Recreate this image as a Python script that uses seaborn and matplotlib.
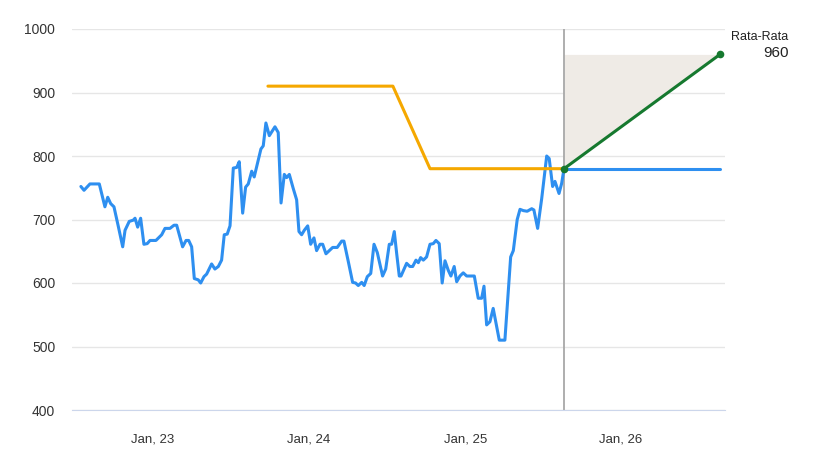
import matplotlib
matplotlib.use("Agg")
import matplotlib.pyplot as plt
import matplotlib.dates as mdates
import seaborn as sns
import pandas as pd

# price history, x in decimal years
price_t = [2022.538, 2022.558, 2022.596, 2022.656, 2022.692, 2022.710, 2022.729, 2022.750,
           2022.778, 2022.806, 2022.821, 2022.848, 2022.874, 2022.885, 2022.902, 2022.921,
           2022.942, 2022.963, 2022.981, 2023.019, 2023.056, 2023.077, 2023.109, 2023.135,
           2023.152, 2023.190, 2023.212, 2023.229, 2023.248, 2023.265, 2023.290, 2023.306,
           2023.327, 2023.344, 2023.376, 2023.397, 2023.419, 2023.440, 2023.457, 2023.476,
           2023.494, 2023.515, 2023.537, 2023.553, 2023.575, 2023.594, 2023.611, 2023.633,
           2023.649, 2023.675, 2023.692, 2023.707, 2023.724, 2023.746, 2023.782, 2023.803,
           2023.821, 2023.842, 2023.857, 2023.874, 2023.899, 2023.921, 2023.936, 2023.953,
           2023.970, 2023.992, 2024.011, 2024.032, 2024.049, 2024.071, 2024.088, 2024.109,
           2024.135, 2024.152, 2024.181, 2024.210, 2024.224, 2024.252, 2024.280, 2024.299,
           2024.316, 2024.338, 2024.354, 2024.374, 2024.396, 2024.417, 2024.438, 2024.472,
           2024.492, 2024.515, 2024.530, 2024.547, 2024.562, 2024.579, 2024.590, 2024.626,
           2024.647, 2024.665, 2024.686, 2024.701, 2024.716, 2024.733, 2024.754, 2024.776,
           2024.797, 2024.814, 2024.835, 2024.854, 2024.872, 2024.893, 2024.910, 2024.931,
           2024.947, 2024.968, 2024.989, 2025.011, 2025.060, 2025.085, 2025.107, 2025.122,
           2025.139, 2025.160, 2025.181, 2025.199, 2025.220, 2025.256, 2025.293, 2025.310,
           2025.335, 2025.353, 2025.374, 2025.399, 2025.428, 2025.442, 2025.466, 2025.492,
           2025.524, 2025.540, 2025.562, 2025.577, 2025.603, 2025.620, 2025.635]
price = [752, 746, 756, 756, 720, 735, 725, 720, 689, 657, 683, 697, 699, 702, 688, 702,
         661, 662, 667, 667, 676, 686, 686, 691, 691, 657, 667, 667, 657, 607, 605, 600,
         610, 614, 630, 622, 626, 636, 676, 677, 690, 781, 782, 791, 710, 751, 756, 776,
         767, 794, 811, 816, 852, 832, 846, 837, 726, 771, 766, 771, 749, 731, 681, 676,
         683, 690, 661, 671, 651, 661, 661, 646, 652, 656, 656, 666, 666, 634, 601, 600,
         596, 601, 596, 610, 615, 661, 648, 611, 622, 661, 661, 681, 647, 611, 611, 631,
         626, 626, 636, 632, 640, 636, 641, 661, 662, 667, 662, 600, 635, 620, 611, 626,
         602, 611, 616, 611, 611, 576, 576, 595, 534, 539, 560, 537, 510, 510, 641, 651,
         700, 716, 714, 713, 717, 715, 686, 733, 800, 796, 752, 760, 741, 757, 780]

# analyst target history
target_t = [2023.737, 2024.538, 2024.776, 2025.635]
target = [910, 910, 780, 780]

# forecast
fc_t = [2025.635, 2026.635]
fc_flat = [780, 780]
fc_avg = [780, 960]
fc_high = [960, 960]
avg_label = "Rata-Rata"


def to_date(ys):
    return [pd.Timestamp("2023-01-01") + pd.to_timedelta((y - 2023) * 365.25, unit="D") for y in ys]


sns.set_style("white")
plt.rcParams["font.family"] = ["Liberation Sans", "DejaVu Sans"]

fig = plt.figure(figsize=(8.16, 4.55), dpi=100)
ax = fig.add_axes([72 / 816, 1 - 410 / 455, (725 - 72) / 816, (410 - 29) / 455])

blue = "#2e8ff0"
orange = "#f5a800"
green = "#16792f"

ax.fill_between(to_date(fc_t), fc_avg, fc_high, color="#efebe6", lw=0, zorder=1)
ax.axvline(to_date([fc_t[0]])[0], color="#a8a8a8", lw=1.3, zorder=2)

hist = pd.DataFrame({"date": to_date(price_t), "price": price})
sns.lineplot(data=hist, x="date", y="price", ax=ax, color=blue, lw=2.2, zorder=3)
tgt = pd.DataFrame({"date": to_date(target_t), "target": target})
sns.lineplot(data=tgt, x="date", y="target", ax=ax, color=orange, lw=2.2, zorder=3)
sns.lineplot(x=to_date(fc_t), y=fc_flat, ax=ax, color=blue, lw=2.2, zorder=3)
sns.lineplot(x=to_date(fc_t), y=fc_avg, ax=ax, color=green, lw=2.2, zorder=4,
             marker="o", markersize=5.5, markeredgewidth=0)

ax.text(1.009, 0.978, avg_label, transform=ax.transAxes, fontsize=9, color="#222222",
        ha="left", va="center")
ax.text(1.098, 0.937, f"{fc_avg[-1]}", transform=ax.transAxes, fontsize=11, color="#222222",
        ha="right", va="center")

ax.set_xlim(to_date([2022.481, 2026.667]))
ax.set_ylim(400, 1000)
ax.set_yticks(range(400, 1001, 100))
ax.yaxis.grid(True, color="#e6e6e6", lw=1)
ax.set_axisbelow(True)
ax.xaxis.set_major_locator(mdates.YearLocator(month=1))
ax.xaxis.set_major_formatter(mdates.DateFormatter("Jan, %y"))
for s in ["top", "right", "left"]:
    ax.spines[s].set_visible(False)
ax.spines["bottom"].set_color("#ccd6eb")
ax.tick_params(axis="x", length=7, color="#ccd6eb", pad=10, labelsize=9.5, labelcolor="#333333")
ax.tick_params(axis="y", length=0, pad=12, labelsize=10, labelcolor="#333333")
ax.set_xlabel("")
ax.set_ylabel("")

fig.savefig("out.png", dpi=100)
